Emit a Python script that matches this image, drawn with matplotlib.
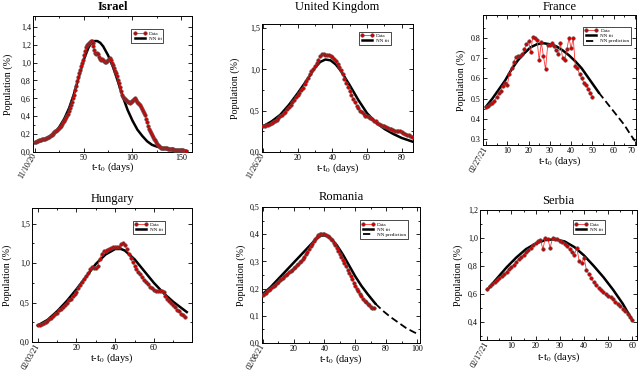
import numpy as np
import matplotlib
matplotlib.use('Agg')
import matplotlib.pyplot as plt

plt.rcParams['font.family'] = ['Liberation Serif', 'DejaVu Serif']
plt.rcParams['mathtext.fontset'] = 'stix'

# ---- data, one value per day ----
isr_y = [0.11, 0.11, 0.12, 0.12, 0.13, 0.13, 0.13, 0.14, 0.14, 0.15, 0.15,
         0.16, 0.16, 0.17, 0.17, 0.18, 0.19, 0.19, 0.20, 0.21, 0.22,
         0.23, 0.24, 0.25, 0.26, 0.27, 0.28, 0.29, 0.31, 0.33, 0.35,
         0.37, 0.39, 0.41, 0.43, 0.46, 0.49, 0.52, 0.56, 0.60, 0.64,
         0.69, 0.74, 0.79, 0.84, 0.88, 0.92, 0.96, 1.00, 1.03, 1.08,
         1.13, 1.17, 1.20, 1.21, 1.22, 1.23, 1.24, 1.24, 1.22, 1.18,
         1.14, 1.11, 1.10, 1.11, 1.09, 1.06, 1.04, 1.03, 1.04, 1.03,
         1.02, 1.01, 1.01, 1.02, 1.03, 1.04, 1.05, 1.03, 1.00, 0.97,
         0.94, 0.91, 0.88, 0.85, 0.81, 0.77, 0.73, 0.68, 0.64, 0.62,
         0.60, 0.59, 0.58, 0.57, 0.56, 0.56, 0.55, 0.56, 0.57, 0.57,
         0.58, 0.59, 0.60, 0.58, 0.56, 0.55, 0.54, 0.52, 0.50, 0.48,
         0.46, 0.44, 0.41, 0.37, 0.33, 0.29, 0.26, 0.23, 0.21, 0.19,
         0.17, 0.15, 0.13, 0.11, 0.09, 0.08, 0.07, 0.06, 0.05, 0.05,
         0.05, 0.04, 0.04, 0.04, 0.04, 0.03, 0.03, 0.03, 0.03, 0.03,
         0.03, 0.03, 0.02, 0.02, 0.02, 0.02, 0.02, 0.02, 0.02, 0.02,
         0.02, 0.02, 0.01, 0.01, 0.01]
isr_fit_t = [0, 5, 10, 15, 20, 25, 30, 35, 40, 45, 50, 55, 58, 61, 64, 67, 70, 75,
             80, 85, 90, 95, 100, 105, 110, 115, 120, 125, 130, 140, 150, 156]
isr_fit_y = [0.10, 0.12, 0.14, 0.17, 0.21, 0.28, 0.37, 0.49, 0.65, 0.84, 1.03, 1.17,
             1.22, 1.24, 1.24, 1.22, 1.18, 1.08, 0.95, 0.79, 0.62, 0.47, 0.35, 0.25,
             0.18, 0.12, 0.08, 0.06, 0.045, 0.025, 0.015, 0.01]

uk_y = [0.32, 0.32, 0.33, 0.33, 0.34, 0.35, 0.36, 0.37, 0.39, 0.41,
        0.43, 0.45, 0.47, 0.49, 0.52, 0.55, 0.57, 0.60, 0.63, 0.66,
        0.69, 0.72, 0.75, 0.78, 0.82, 0.86, 0.90, 0.94, 0.98, 1.01,
        1.04, 1.08, 1.12, 1.16, 1.19, 1.19, 1.18, 1.17, 1.17, 1.16,
        1.15, 1.13, 1.10, 1.07, 1.03, 0.99, 0.94, 0.89, 0.84, 0.79,
        0.74, 0.69, 0.64, 0.60, 0.56, 0.53, 0.50, 0.48, 0.46, 0.44,
        0.43, 0.42, 0.41, 0.40, 0.38, 0.37, 0.35, 0.34, 0.33, 0.32,
        0.31, 0.30, 0.29, 0.28, 0.28, 0.27, 0.26, 0.26, 0.25, 0.25,
        0.24, 0.23, 0.22, 0.21, 0.20, 0.19, 0.18]
uk_fit_t = [0, 5, 10, 15, 20, 25, 30, 33, 36, 39, 42, 45, 50, 55, 60, 65, 70, 75, 80, 87]
uk_fit_y = [0.31, 0.37, 0.45, 0.57, 0.71, 0.86, 1.02, 1.09, 1.12, 1.11, 1.06, 0.98,
            0.81, 0.63, 0.47, 0.36, 0.28, 0.22, 0.17, 0.12]

fr_y = [0.46, 0.465, 0.473, 0.48, 0.489, 0.51, 0.527, 0.54, 0.565, 0.578,
        0.567, 0.62, 0.65, 0.68, 0.705, 0.71, 0.712, 0.72, 0.745, 0.77,
        0.785, 0.73, 0.808, 0.80, 0.79, 0.69, 0.78, 0.71, 0.645, 0.766,
        0.766, 0.775, 0.76, 0.74, 0.72, 0.775, 0.70, 0.69, 0.745, 0.80,
        0.75, 0.80, 0.66, 0.65, 0.62, 0.60, 0.58, 0.57, 0.55, 0.53, 0.51]
fr_fit_t = [0, 3, 6, 9, 12, 15, 18, 21, 24, 27, 30, 33, 36, 39, 42, 45, 48, 51, 53]
fr_fit_y = [0.46, 0.50, 0.545, 0.59, 0.645, 0.69, 0.725, 0.755, 0.77, 0.775, 0.77,
            0.76, 0.74, 0.715, 0.685, 0.65, 0.605, 0.56, 0.53]
fr_pred_t = [53, 56, 59, 62, 65, 68, 70]
fr_pred_y = [0.53, 0.49, 0.45, 0.41, 0.37, 0.32, 0.29]

hu_y = [0.21, 0.22, 0.23, 0.24, 0.26, 0.27, 0.29, 0.31, 0.33, 0.35,
        0.37, 0.40, 0.42, 0.45, 0.47, 0.50, 0.53, 0.55, 0.58, 0.61,
        0.64, 0.68, 0.72, 0.76, 0.80, 0.84, 0.88, 0.92, 0.95, 0.94,
        0.94, 0.97, 1.05, 1.12, 1.15, 1.16, 1.17, 1.18, 1.19, 1.20,
        1.20, 1.20, 1.21, 1.24, 1.25, 1.23, 1.18, 1.12, 1.06, 1.01,
        0.97, 0.93, 0.89, 0.86, 0.82, 0.79, 0.76, 0.73, 0.70, 0.68,
        0.66, 0.65, 0.65, 0.65, 0.65, 0.63, 0.58, 0.55, 0.52, 0.49,
        0.47, 0.44, 0.41, 0.39, 0.36, 0.34, 0.32]
hu_fit_t = [0, 5, 10, 15, 20, 25, 30, 35, 40, 43, 45, 50, 55, 60, 65, 70, 77]
hu_fit_y = [0.21, 0.28, 0.39, 0.52, 0.67, 0.83, 0.99, 1.11, 1.18, 1.18, 1.16, 1.05,
            0.90, 0.75, 0.62, 0.51, 0.38]

ro_y = [0.178, 0.18, 0.185, 0.19, 0.195, 0.20, 0.205, 0.21, 0.215, 0.22,
        0.225, 0.23, 0.235, 0.24, 0.245, 0.25, 0.255, 0.26, 0.265, 0.27,
        0.275, 0.28, 0.285, 0.29, 0.296, 0.302, 0.31, 0.318, 0.327, 0.336,
        0.345, 0.355, 0.365, 0.374, 0.383, 0.39, 0.396, 0.40, 0.402, 0.402,
        0.40, 0.398, 0.395, 0.39, 0.384, 0.377, 0.369, 0.36, 0.35, 0.34,
        0.329, 0.318, 0.306, 0.294, 0.282, 0.27, 0.258, 0.246, 0.234, 0.222,
        0.21, 0.20, 0.19, 0.18, 0.171, 0.163, 0.156, 0.149, 0.143, 0.138,
        0.134, 0.13, 0.127]
ro_fit_t = [0, 5, 10, 15, 20, 25, 30, 35, 38, 41, 44, 48, 52, 56, 60, 64, 68, 73]
ro_fit_y = [0.18, 0.205, 0.235, 0.265, 0.295, 0.325, 0.355, 0.385, 0.395, 0.395,
            0.385, 0.36, 0.325, 0.285, 0.245, 0.21, 0.18, 0.145]
ro_pred_t = [73, 78, 83, 88, 93, 98, 101]
ro_pred_y = [0.145, 0.118, 0.095, 0.075, 0.055, 0.04, 0.032]

rs_y = [0.635, 0.655, 0.67, 0.685, 0.70, 0.715, 0.73, 0.745, 0.76, 0.78,
        0.795, 0.81, 0.83, 0.85, 0.865, 0.88, 0.90, 0.915, 0.93, 0.95,
        0.965, 0.98, 0.985, 0.92, 1.0, 0.995, 0.93, 1.0, 0.995, 0.99,
        0.98, 0.97, 0.955, 0.94, 0.92, 0.90, 0.88, 0.93, 0.835, 0.82,
        0.86, 0.77, 0.74, 0.71, 0.685, 0.665, 0.645, 0.63, 0.61, 0.60,
        0.585, 0.575, 0.56, 0.545, 0.53, 0.515, 0.495, 0.475, 0.455, 0.435,
        0.41]
rs_fit_t = [0, 4, 8, 12, 16, 20, 24, 28, 32, 36, 40, 44, 48, 52, 56, 60]
rs_fit_y = [0.63, 0.71, 0.79, 0.86, 0.92, 0.96, 0.985, 0.99, 0.975, 0.935, 0.875,
            0.80, 0.72, 0.63, 0.53, 0.41]

W, H = 640, 377
fig = plt.figure(figsize=(6.4, 3.77), dpi=100)


def add_ax(l, t, r, b):
    return fig.add_axes([l / W, 1 - b / H, (r - l) / W, (b - t) / H])


def draw(ax, t, y, ft, fy, pt=None, py=None):
    ax.plot(ft, fy, color='black', lw=1.8, label='NN fit', zorder=2)
    if pt is not None:
        ax.plot(pt, py, color='black', lw=1.3, ls=(0, (4, 2)), label='NN prediction', zorder=2)
    ax.plot(t, y, '-o', color='#ff3333', lw=0.6, ms=2.6, mfc='#cc0000',
            mec='#555555', mew=0.35, label='Data', zorder=3)


def style(ax, title, xlim, ylim, xmaj, xmin, ymaj, ymin, date, fmt, leg,
          ylx, xly, tly, bold=False):
    ax.set_xlim(xlim)
    ax.set_ylim(ylim)
    ax.set_xticks(xmaj)
    ax.set_xticklabels([date] + [str(v) for v in xmaj[1:]])
    ax.set_xticks(xmin, minor=True)
    ax.set_yticks(ymaj)
    ax.set_yticklabels([fmt(v) for v in ymaj])
    ax.set_yticks(ymin, minor=True)
    ax.tick_params(which='both', direction='in', top=True, right=True,
                   labelsize=5.8, width=0.6, pad=1.5)
    ax.tick_params(which='major', length=3)
    ax.tick_params(which='minor', length=1.5)
    for s in ax.spines.values():
        s.set_linewidth(0.7)
    lab = ax.get_xticklabels()[0]
    lab.set_rotation(60)
    lab.set_rotation_mode('anchor')
    lab.set_ha('right')
    lab.set_va('center')
    ax.set_ylabel('Population (%)', fontsize=7.2, va='center')
    ax.yaxis.set_label_coords(ylx, 0.5)
    ax.set_xlabel('t-t$_0$ (days)', fontsize=7.5, va='center')
    ax.xaxis.set_label_coords(0.5, xly)
    ax.text(0.5, tly, title, transform=ax.transAxes, ha='center', va='center',
            fontsize=9, fontweight='bold' if bold else 'normal')
    h, l = ax.get_legend_handles_labels()
    order = [l.index('Data'), l.index('NN fit')] + ([l.index('NN prediction')] if 'NN prediction' in l else [])
    lg = ax.legend([h[i] for i in order], [l[i] for i in order], loc='upper right',
                   bbox_to_anchor=leg, fontsize=3.6, numpoints=2, handlelength=2.6,
                   borderpad=0.35, labelspacing=0.15, handletextpad=0.5,
                   fancybox=False, framealpha=1, edgecolor='black')
    lg.get_frame().set_linewidth(0.5)


comma = lambda v: f'{v:.1f}'.replace('.', ',')
dot = lambda v: f'{v:.1f}'

# Israel
ax = add_ax(33, 16, 192, 152)
draw(ax, np.arange(len(isr_y)), isr_y, isr_fit_t, isr_fit_y)
style(ax, 'Israel', (-2, 161), (0, 1.52), [0, 50, 100, 150], [25, 75, 125],
      np.arange(0, 1.41, 0.2), np.arange(0.1, 1.5, 0.2), '11/10/20', comma,
      (0.835, 0.92), -0.158, -0.115, 1.065, bold=True)

# United Kingdom
ax = add_ax(262, 24, 413, 152)
draw(ax, np.arange(len(uk_y)), uk_y, uk_fit_t, uk_fit_y)
style(ax, 'United Kingdom', (-0.5, 86.5), (0, 1.55), [0, 20, 40, 60, 80],
      [10, 30, 50, 70], [0, 0.5, 1.0, 1.5], [0.25, 0.75, 1.25], '11/26/20', comma,
      (0.868, 0.96), -0.18, -0.125, 1.13)

# France
ax = add_ax(483, 15, 636, 145)
draw(ax, np.arange(len(fr_y)), fr_y, fr_fit_t, fr_fit_y, fr_pred_t, fr_pred_y)
style(ax, 'France', (-1.4, 70.5), (0.27, 0.915), [0, 10, 20, 30, 40, 50, 60, 70],
      [5, 15, 25, 35, 45, 55, 65], np.arange(0.3, 0.81, 0.1),
      np.arange(0.35, 0.91, 0.1), '02/27/21', dot,
      (0.985, 0.93), -0.144, -0.125, 1.065)
ax.get_xticklabels()[-1].set_ha('right')

# Hungary
ax = add_ax(32, 208, 192, 342)
draw(ax, np.arange(len(hu_y)), hu_y, hu_fit_t, hu_fit_y)
style(ax, 'Hungary', (-3, 79.7), (0, 1.7), [0, 20, 40, 60], [10, 30, 50, 70],
      [0, 0.5, 1.0, 1.5], [0.25, 0.75, 1.25], '02/03/21', comma,
      (0.844, 0.925), -0.158, -0.12, 1.065)

# Romania
ax = add_ax(262, 207, 420, 343)
draw(ax, np.arange(len(ro_y)), ro_y, ro_fit_t, ro_fit_y, ro_pred_t, ro_pred_y)
style(ax, 'Romania', (-0.5, 102), (0, 0.5), [0, 20, 40, 60, 80, 100],
      [10, 30, 50, 70, 90], np.arange(0, 0.51, 0.1), np.arange(0.05, 0.5, 0.1),
      '02/08/21', comma, (0.937, 0.92), -0.131, -0.12, 1.07)

# Serbia
ax = add_ax(480, 210, 637, 340)
draw(ax, np.arange(len(rs_y)), rs_y, rs_fit_t, rs_fit_y)
style(ax, 'Serbia', (-3, 61.9), (0.27, 1.2), [0, 10, 20, 30, 40, 50, 60],
      [5, 15, 25, 35, 45, 55], np.arange(0.4, 1.21, 0.2), np.arange(0.3, 1.2, 0.2),
      '02/17/21', comma, (0.81, 0.94), -0.142, -0.135, 1.07)

fig.savefig('out.png', dpi=100)
